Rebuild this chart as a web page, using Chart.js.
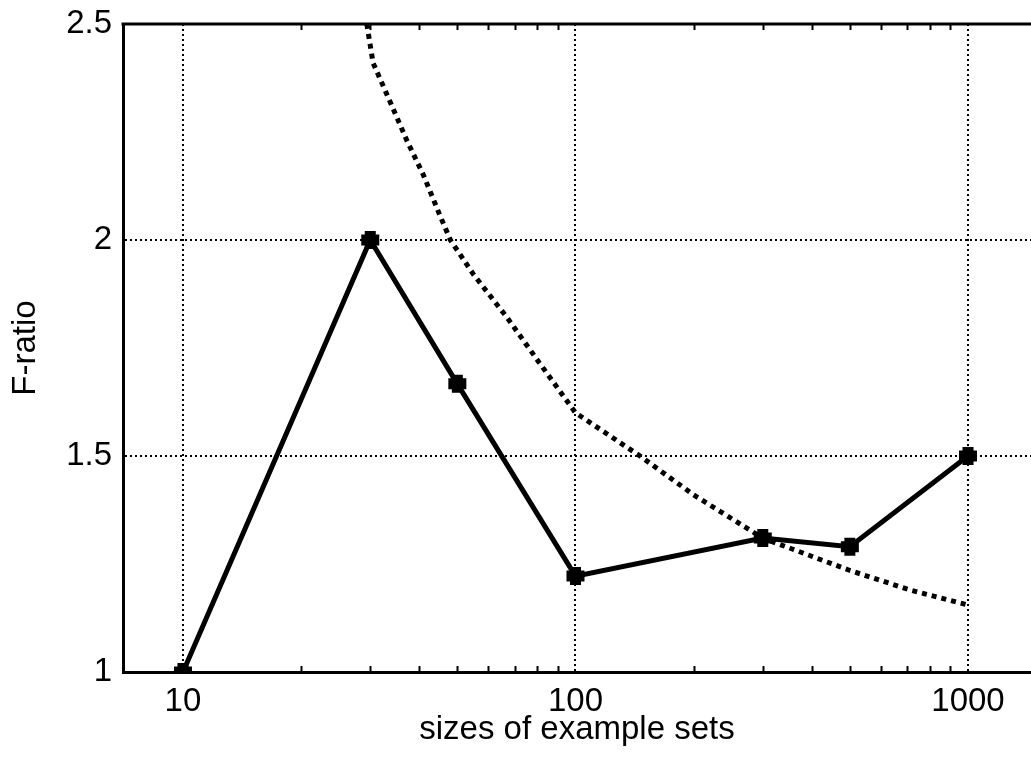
<!DOCTYPE html>
<html>
<head>
<meta charset="utf-8">
<title>F-ratio vs sizes of example sets</title>
<script src="https://cdn.jsdelivr.net/npm/chart.js@4/dist/chart.umd.min.js"></script>
<style>
    html, body { margin: 0; padding: 0; background: #fff; overflow: hidden; }
    #wrap { width: 1031px; height: 758px; }
</style>
</head>
<body>
<div id="wrap"><canvas id="chart" width="1031" height="758"></canvas></div>
<script>
// Measured F-ratio per example set size
const sampleSizes = [10, 30, 50, 100, 300, 500, 1000];
const fRatios = [1.0, 2.0, 1.667, 1.222, 1.31, 1.29, 1.5];

// Dotted reference curve
const curveX = [29.4, 30.5, 33.7, 37.2, 41, 45, 48, 55, 67, 81, 100, 146, 200, 300, 500, 711, 1000];
const curveY = [2.5, 2.41, 2.32, 2.23, 2.15, 2.06, 2.0, 1.92, 1.82, 1.715, 1.6, 1.5, 1.41, 1.31, 1.235, 1.19, 1.155];

// Axes
const xTicks = [10, 100, 1000];
const xMinorTicks = [20, 30, 40, 50, 60, 70, 80, 90, 200, 300, 400, 500, 600, 700, 800, 900];
const yTicks = [1, 1.5, 2, 2.5];

const FONT = '"Liberation Sans", Arial, Helvetica, sans-serif';

// no extra room for overhanging tick labels, the plot box is fixed
function noPadding(scale) {
    scale.paddingLeft = 0;
    scale.paddingRight = 0;
    scale.paddingTop = 0;
    scale.paddingBottom = 0;
}

// top frame line and the small inward minor ticks on the x axis
const framePlugin = {
    id: 'frame',
    afterDraw(chart) {
        const ctx = chart.ctx;
        const area = chart.chartArea;
        const xs = chart.scales.x;
        ctx.save();
        ctx.strokeStyle = '#000';
        ctx.lineWidth = 2;
        ctx.beginPath();
        xMinorTicks.forEach(v => {
            const px = Math.round(xs.getPixelForValue(v)) + 0.5;
            ctx.moveTo(px, area.bottom);
            ctx.lineTo(px, area.bottom - 6);
            ctx.moveTo(px, area.top);
            ctx.lineTo(px, area.top + 6);
        });
        ctx.stroke();
        ctx.lineWidth = 3;
        ctx.beginPath();
        ctx.moveTo(area.left - 1.5, area.top);
        ctx.lineTo(area.right, area.top);
        ctx.stroke();
        ctx.restore();
    }
};

new Chart(document.getElementById('chart').getContext('2d'), {
    type: 'line',
    data: {
        datasets: [
            {
                label: 'F-ratio',
                data: sampleSizes.map((x, i) => ({x: x, y: fRatios[i]})),
                borderColor: '#000',
                backgroundColor: '#000',
                borderWidth: 5,
                borderJoinStyle: 'miter',
                pointStyle: 'cross',
                pointRadius: 9,
                pointBorderWidth: 11,
                pointBorderColor: '#000',
                tension: 0
            },
            {
                label: 'critical',
                data: curveX.map((x, i) => ({x: x, y: curveY[i]})),
                borderColor: '#000',
                borderWidth: 5,
                borderDash: [5, 5],
                pointRadius: 0,
                tension: 0
            }
        ]
    },
    options: {
        responsive: false,
        devicePixelRatio: 1,
        animation: false,
        layout: { autoPadding: false, padding: { top: 24, right: 0, bottom: 0, left: 0 } },
        plugins: {
            legend: { display: false },
            tooltip: { enabled: false }
        },
        scales: {
            x: {
                type: 'logarithmic',
                min: 7.034,
                max: 1447,
                afterBuildTicks: scale => { scale.ticks = xTicks.map(v => ({value: v})); },
                afterFit: scale => { scale.height = 86; noPadding(scale); },
                ticks: {
                    color: '#000',
                    font: { family: FONT, size: 33 },
                    padding: 10,
                    maxRotation: 0,
                    autoSkip: false,
                    callback: v => String(v)
                },
                grid: { color: '#000', lineWidth: 2, drawTicks: false },
                border: { display: true, color: '#000', width: 3, dash: [2, 3] },
                title: {
                    display: true,
                    text: 'sizes of example sets',
                    color: '#000',
                    font: { family: FONT, size: 33 },
                    padding: { top: 0, bottom: 8 }
                }
            },
            y: {
                type: 'linear',
                min: 1,
                max: 2.5,
                afterBuildTicks: scale => { scale.ticks = yTicks.map(v => ({value: v})); },
                afterFit: scale => { scale.width = 123; noPadding(scale); },
                ticks: {
                    color: '#000',
                    font: { family: FONT, size: 33 },
                    padding: 11,
                    callback: v => String(v)
                },
                grid: { color: '#000', lineWidth: 2, drawTicks: false },
                border: { display: true, color: '#000', width: 3, dash: [2, 3] },
                title: {
                    display: true,
                    text: 'F-ratio',
                    color: '#000',
                    font: { family: FONT, size: 33 },
                    padding: { top: 6, bottom: 0 }
                }
            }
        }
    },
    plugins: [framePlugin]
});
</script>
</body>
</html>
